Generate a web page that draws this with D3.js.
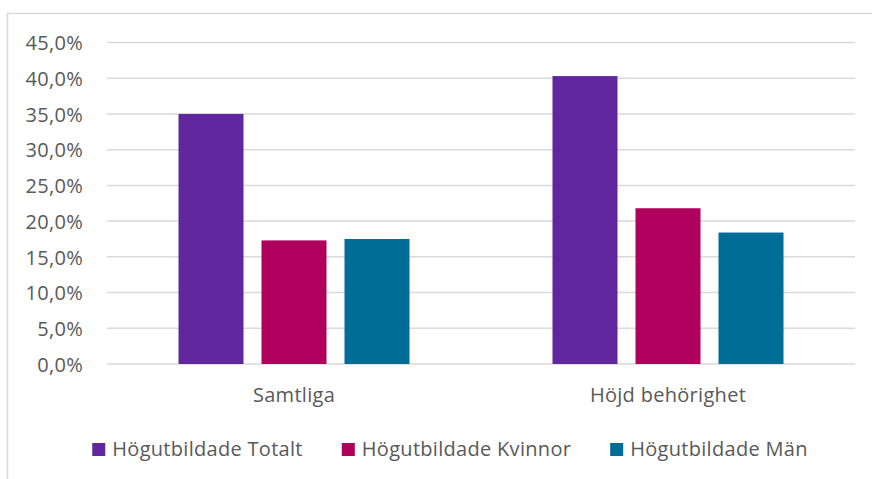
<!DOCTYPE html>
<html>
<head>
<meta charset="utf-8">
<script src="https://cdn.jsdelivr.net/npm/d3@7"></script>
<style>
  html, body { margin: 0; padding: 0; background: #fff; }
  svg { display: block; }
  text { font-family: "Open Sans", "DejaVu Sans", sans-serif; fill: #595959; letter-spacing: 0.3px; }
</style>
</head>
<body>
<svg id="chart" width="872" height="479"></svg>
<script>
const categories = ["Samtliga", "Höjd behörighet"];
const seriesNames = ["Högutbildade Totalt", "Högutbildade Kvinnor", "Högutbildade Män"];
const totalt = [35.0, 40.3];
const kvinnor = [17.3, 21.8];
const man = [17.5, 18.4];
const yTicks = [0, 5, 10, 15, 20, 25, 30, 35, 40, 45];
const colors = ["#5f269e", "#af005d", "#006d97"];

(function () {
const seriesValues = [totalt, kvinnor, man];
const svg = d3.select("#chart");
const FS = "20px";

// chart frame
svg.append("rect")
  .attr("x", 7.5).attr("y", 13.5)
  .attr("width", 1000).attr("height", 1000)
  .attr("fill", "none").attr("stroke", "#d9d9d9").attr("stroke-width", 1.5);

const pLeft = 107, pRight = 855, pTop = 42.5, pBottom = 364;

const x0 = d3.scaleBand().domain(categories).range([pLeft, pRight]).paddingInner(0).paddingOuter(0);
const groupW = x0.bandwidth() * 231 / 374;
const x1 = d3.scaleBand().domain(seriesNames)
  .range([(x0.bandwidth() - groupW) / 2, (x0.bandwidth() + groupW) / 2])
  .paddingInner(18 / 83).paddingOuter(0);
const y = d3.scaleLinear().domain([0, 45]).range([pBottom, pTop]);

// gridlines
svg.append("g").selectAll("line").data(yTicks).join("line")
  .attr("x1", pLeft).attr("x2", pRight)
  .attr("y1", d => y(d)).attr("y2", d => y(d))
  .attr("stroke", "#d9d9d9").attr("stroke-width", 1.5);

// y axis labels
const fmt = d => d.toFixed(1).replace(".", ",") + "%";
const yAxis = d3.axisLeft(y).tickValues(yTicks).tickFormat(fmt).tickSize(0).tickPadding(0);
const yg = svg.append("g").attr("transform", `translate(83,0)`).call(yAxis);
yg.select(".domain").remove();
yg.selectAll("text").attr("font-size", FS).attr("fill", "#595959")
  .attr("font-family", '"Open Sans", sans-serif').attr("dy", "0.36em");

// bars
const data = [];
categories.forEach((c, i) => seriesNames.forEach((s, j) => data.push({ c, s, v: seriesValues[j][i], j })));
svg.append("g").selectAll("rect").data(data).join("rect")
  .attr("x", d => x0(d.c) + x1(d.s))
  .attr("width", x1.bandwidth())
  .attr("y", d => y(d.v))
  .attr("height", d => y(0) - y(d.v))
  .attr("fill", d => colors[d.j]);

// x axis labels
const xAxis = d3.axisBottom(x0).tickSize(0).tickPadding(0);
const xg = svg.append("g").attr("transform", `translate(0,${pBottom})`).call(xAxis);
xg.select(".domain").remove();
xg.selectAll("text").attr("font-size", FS).attr("fill", "#595959")
  .attr("font-family", '"Open Sans", sans-serif').attr("dy", null).attr("y", 38);

// legend
const legend = svg.append("g");
const items = legend.selectAll("g").data(seriesNames).join("g");
items.append("rect").attr("width", 13).attr("height", 13).attr("y", 443)
  .attr("fill", (d, i) => colors[i]);
items.append("text").attr("x", 20).attr("y", 456).attr("font-size", FS).text(d => d);
const widths = [];
items.each(function () { widths.push(this.getBBox().width); });
const gap = 39;
const totalW = d3.sum(widths) + gap * (widths.length - 1);
let startX = 450 - totalW / 2;
items.attr("transform", (d, i) => {
  const t = `translate(${startX},0)`;
  startX += widths[i] + gap;
  return t;
});
})();
</script>
</body>
</html>
